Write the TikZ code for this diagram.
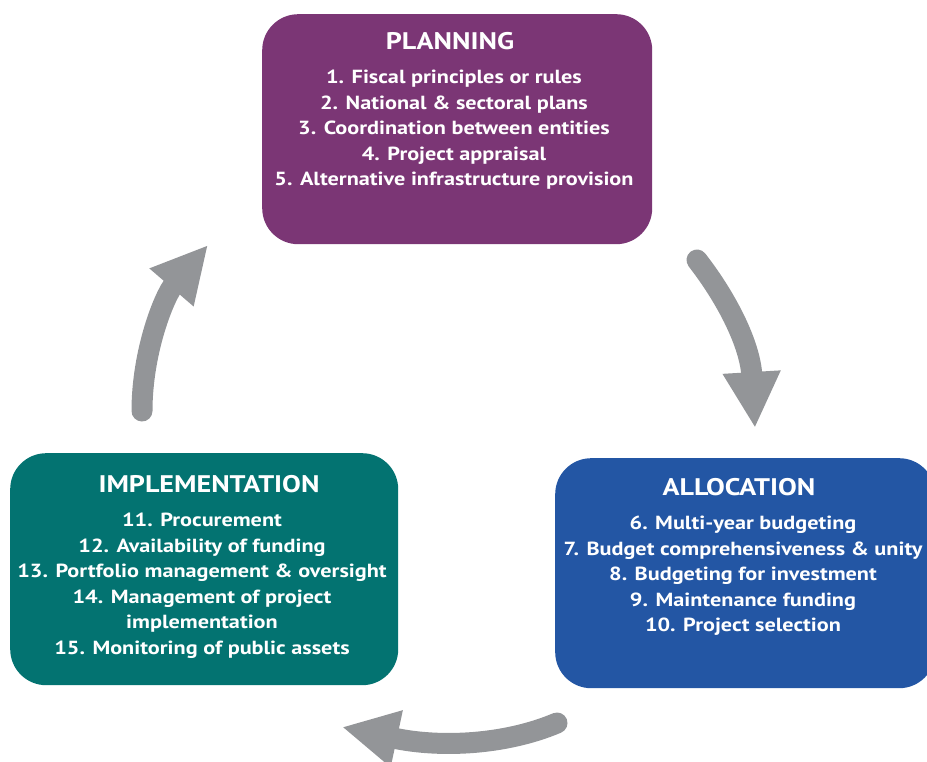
\documentclass[tikz,border=0pt]{standalone}
\usepackage{fontspec}
\setmainfont{PT Sans}[FakeStretch=1.17]
\usetikzlibrary{positioning,arrows.meta}

\definecolor{planpurple}{HTML}{7B3675}
\definecolor{allocblue}{HTML}{2356A4}
\definecolor{implteal}{HTML}{037371}
\definecolor{cyclegray}{HTML}{939598}

\tikzset{
  stage/.style={rounded corners=36pt, inner sep=0pt, anchor=north west},
  stagetitle/.style={text=white, inner sep=0pt, font=\bfseries\fontsize{24}{24}\selectfont},
  stageitems/.style={text=white, inner sep=0pt, align=center,
    font=\bfseries\fontsize{19}{25.5}\selectfont},
  cyclearrow/.style={draw=cyclegray, line width=21pt, line cap=round,
    -{Triangle[length=56pt,width=54pt]}},
}

\begin{document}
\begin{tikzpicture}[x=1pt,y=-1pt]
    \useasboundingbox (0,0) rectangle (927,762);
    % the three stages
    \node[stage, fill=planpurple, minimum width=390pt, minimum height=230pt] (plan) at (262,14) {};
    \node[stage, fill=allocblue, minimum width=380pt, minimum height=230pt] (alloc) at (555,458) {};
    \node[stage, fill=implteal, minimum width=388pt, minimum height=232pt] (impl) at (10,453) {};

    \node[stagetitle] (plantitle) at (450,41) {PLANNING};
    \node[stageitems, below=20pt of plantitle, xshift=4pt] (planlist)
      {1. Fiscal principles or rules\\
       2. National \& sectoral plans\\
       3. Coordination between entities\\
       4. Project appraisal\\
       5. Alternative infrastructure provision};

    \node[stagetitle] (alloctitle) at (739,487) {ALLOCATION};
    \node[stageitems, below=20pt of alloctitle, xshift=4pt] (alloclist)
      {6. Multi-year budgeting\\
       7. Budget comprehensiveness \& unity\\
       8. Budgeting for investment\\
       9. Maintenance funding\\
       10. Project selection};

    \node[stagetitle] (impltitle) at (209,484) {IMPLEMENTATION};
    \node[stageitems, below=20pt of impltitle, xshift=-7pt] (impllist)
      {11. Procurement\\
       12. Availability of funding\\
       13. Portfolio management \& oversight\\
       14. Management of project\\
       implementation\\
       15. Monitoring of public assets};

    % cycle arrows
    \coordinate (planout) at (697,260);
    \coordinate (allocin) at (755,428);
    \coordinate (allocout) at (557,723);
    \coordinate (implin) at (342,727);
    \coordinate (implout) at (142,411);
    \coordinate (planin) at (208,245);

    \draw[cyclearrow] (planout) .. controls (728,300) and (750,345) .. (allocin);
    \draw[cyclearrow] (allocout) .. controls (505,745) and (440,748) .. (implin);
    \draw[cyclearrow] (implout) .. controls (142,350) and (165,295) .. (planin);
\end{tikzpicture}
\end{document}
